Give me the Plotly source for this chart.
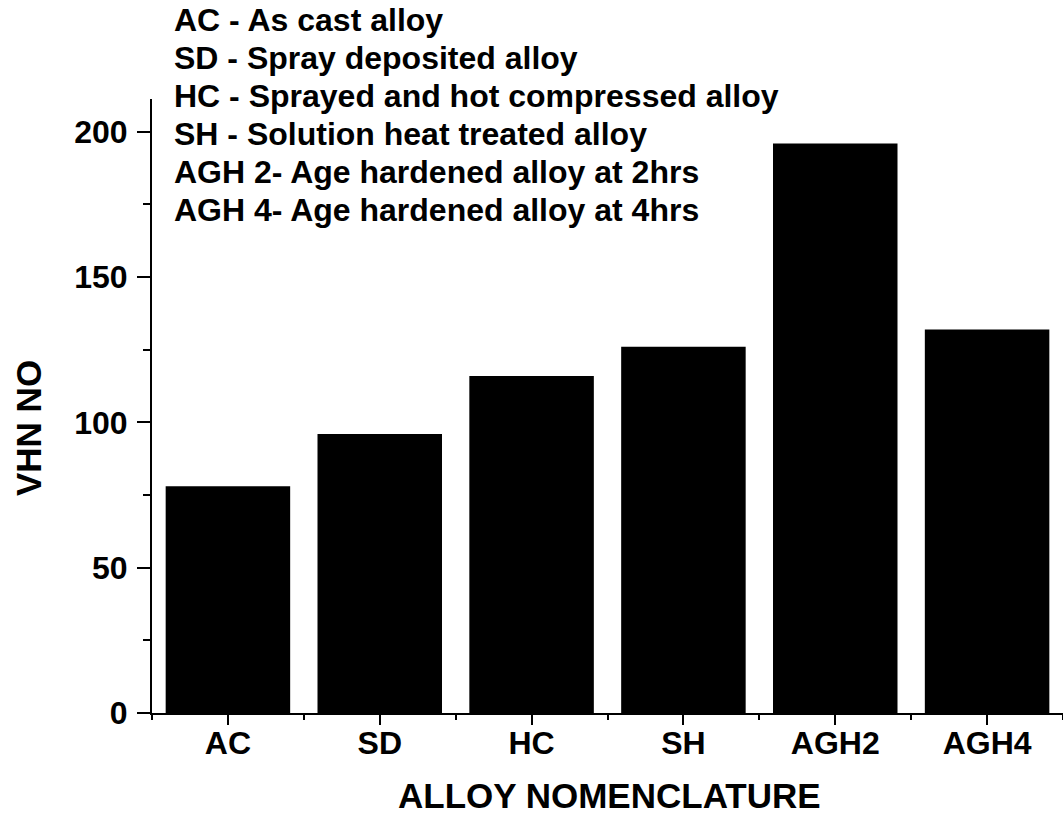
import plotly.graph_objects as go

# ---- data ----
categories = ["AC", "SD", "HC", "SH", "AGH2", "AGH4"]
vhn_values = [78, 96, 116, 126, 196, 132]
y_tick_values = [0, 50, 100, 150, 200]
legend_lines = [
    "AC - As cast alloy",
    "SD - Spray deposited alloy",
    "HC - Sprayed and hot compressed alloy",
    "SH - Solution heat treated alloy",
    "AGH 2- Age hardened alloy at 2hrs",
    "AGH 4- Age hardened alloy at 4hrs",
]
x_title = "ALLOY NOMENCLATURE"
y_title = "VHN NO"

# ---- layout geometry (page pixels) ----
W, H = 1063, 816
PL, PR, PT, PB = 152, 1063, 99, 713  # plot area edges in page pixels
plot_w = PR - PL
plot_h = PB - PT

FONT = "Arial, Liberation Sans, sans-serif"
TXT = 32
TICK = 32
TITLE = 35


def px_x(px):
    return (px - PL) / plot_w


def px_y(py):
    return (PB - py) / plot_h


x_pos = list(range(len(categories)))

fig = go.Figure(
    go.Bar(
        x=x_pos,
        y=vhn_values,
        width=0.82,
        marker=dict(color="black", line=dict(width=0)),
    )
)

fig.update_layout(
    width=W,
    height=H,
    margin=dict(l=PL, r=W - PR, t=PT, b=H - PB, autoexpand=False),
    plot_bgcolor="white",
    paper_bgcolor="white",
    showlegend=False,
    font=dict(family=FONT, color="black", size=TXT, weight="bold"),
)

fig.update_xaxes(
    range=[-0.5, len(categories) - 0.5],
    tickmode="array",
    tickvals=x_pos,
    ticktext=categories,
    ticks="outside",
    ticklen=10,
    tickwidth=2,
    tickcolor="black",
    showline=True,
    linewidth=2,
    linecolor="black",
    showgrid=False,
    zeroline=False,
    ticklabelstandoff=-9,
    tickfont=dict(family=FONT, size=TICK, color="black", weight="bold"),
    minor=dict(tickmode="linear", tick0=-0.5, dtick=1, ticks="outside",
               ticklen=5, tickwidth=2, tickcolor="black", showgrid=False),
)

fig.update_yaxes(
    range=[0, 211.3],
    tickmode="array",
    tickvals=y_tick_values,
    ticks="outside",
    ticklen=13,
    tickwidth=2,
    tickcolor="black",
    showline=True,
    linewidth=2,
    linecolor="black",
    showgrid=False,
    zeroline=False,
    ticklabelstandoff=3,
    tickfont=dict(family=FONT, size=TICK, color="black", weight="bold"),
    minor=dict(tickmode="linear", tick0=0, dtick=25, ticks="outside",
               ticklen=7, tickwidth=2, tickcolor="black", showgrid=False),
)

annotations = []
line_centers = [20, 58, 96, 134, 172, 210]
for text, cy in zip(legend_lines, line_centers):
    annotations.append(dict(
        text=text, xref="paper", yref="paper",
        x=px_x(172), y=px_y(cy), xanchor="left", yanchor="middle",
        showarrow=False,
        font=dict(family=FONT, size=TXT, color="black", weight="bold"),
    ))

annotations.append(dict(
    text=x_title, xref="paper", yref="paper",
    x=px_x(609), y=px_y(795), xanchor="center", yanchor="middle",
    showarrow=False,
    font=dict(family=FONT, size=TITLE, color="black", weight="bold"),
))
annotations.append(dict(
    text=y_title, xref="paper", yref="paper",
    x=px_x(28), y=px_y(428), xanchor="center", yanchor="middle",
    textangle=-90, showarrow=False,
    font=dict(family=FONT, size=TITLE, color="black", weight="bold"),
))
fig.update_layout(annotations=annotations)

fig.write_html(
    "out.html",
    config={"displayModeBar": False},
    post_script="document.body.style.margin='0';document.body.style.overflow='hidden';",
)
